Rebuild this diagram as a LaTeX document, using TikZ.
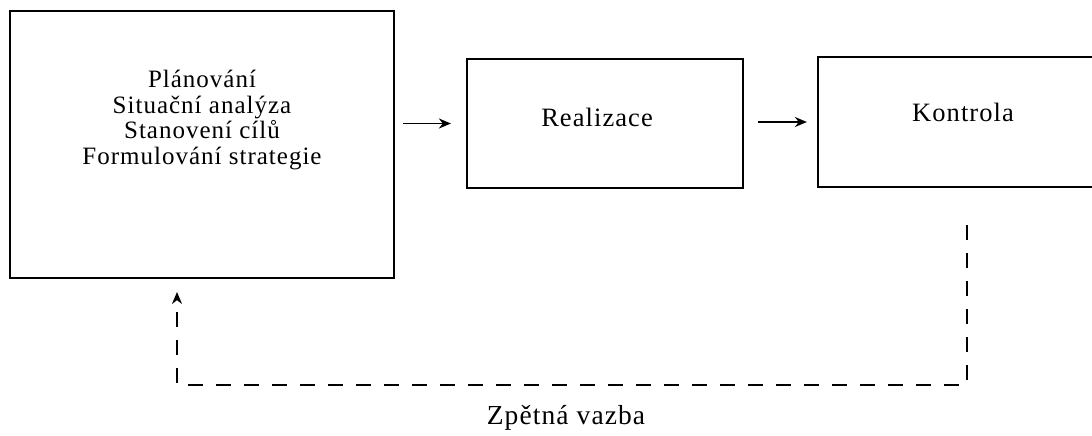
\documentclass[tikz,border=0pt]{standalone}
\usepackage{fontspec}
\setmainfont{Liberation Serif}[LetterSpace=4]
\usetikzlibrary{arrows.meta,positioning,calc}

\begin{document}
\begin{tikzpicture}[x=1pt, y=-1pt, >={Stealth[length=12pt, width=10pt]},
  font=\fontsize{26.5}{30}\selectfont,
  blok/.style={draw, line width=2.2pt, inner sep=0pt},
  sipka/.style={->, line width=1.8pt},
  vazba/.style={->, line width=2pt, dash pattern=on 15pt off 13pt}]
  \clip (0,0) rectangle (1092,436);

  % bloky
  \node[blok, minimum width=384pt, minimum height=267pt] (plan) at (202,144.5) {};
  \node[blok, minimum width=276pt, minimum height=129pt] (real) at (605,123.5) {};
  \node[blok, minimum width=290pt, minimum height=130pt] (kontrola) at (963,122) {};

  % texty
  \node[align=center, font=\fontsize{25}{25.5}\selectfont] (plantext) at (202,120)
    {Plánování\\Situační analýza\\Stanovení cílů\\Formulování strategie};
  \node (realtext) at (597,117) {Realizace};
  \node (kontroltext) at (963,112) {Kontrola};

  % sipky
  \draw[sipka, shorten <=8pt, shorten >=15pt] (plan.east |- real.west) -- (real.west);
  \draw[sipka, shorten <=14pt, shorten >=10pt] (real.east |- kontrola.west) -- (kontrola.west);

  % zpetna vazba
  \coordinate (fbstart) at (967,225);
  \coordinate (fbroh) at (177,385);
  \coordinate (fbkonec) at (177,292);
  \draw[vazba] (fbstart) |- (fbroh) -- (fbkonec);
  \node[font=\fontsize{27.5}{30}\selectfont] (zpetna) at (566,418) {Zpětná vazba};
\end{tikzpicture}
\end{document}
